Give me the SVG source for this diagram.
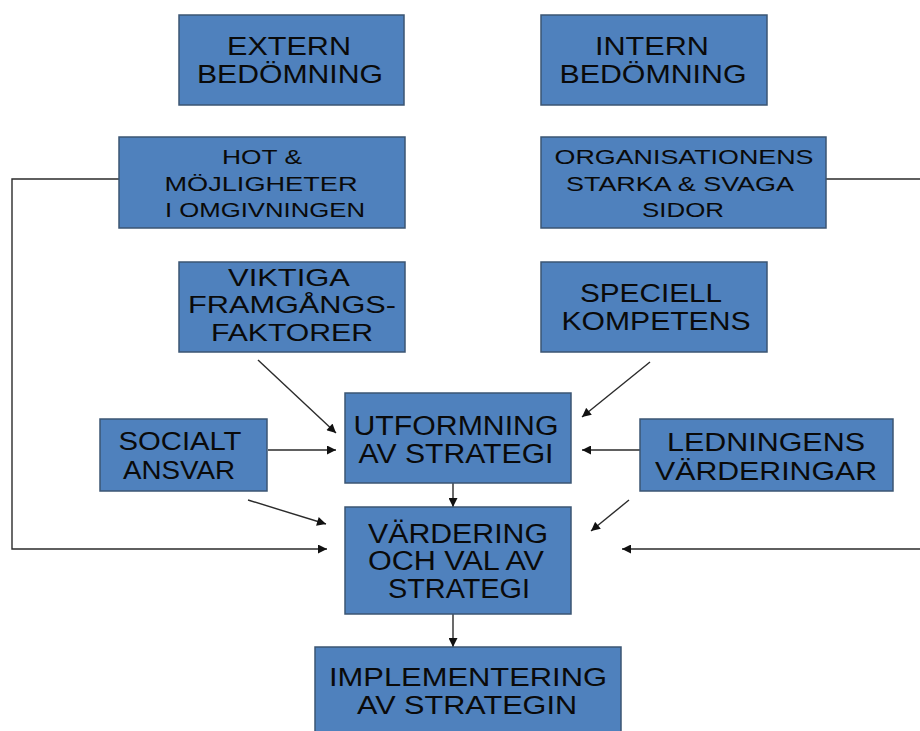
<svg xmlns="http://www.w3.org/2000/svg" width="920" height="731" viewBox="0 0 920 731">
<style>
.box{fill:#4F81BD;stroke:#3B5573;stroke-width:1.5}
.t{font-family:"Liberation Sans",Arial,sans-serif;fill:#0a0a0a;text-anchor:middle}
.conn{fill:none;stroke:#2b2b2b;stroke-width:1.4}
</style>
<defs>
<marker id="ah2" viewBox="0 0 10 10" refX="10" refY="5" markerWidth="10" markerHeight="9" orient="auto" markerUnits="userSpaceOnUse">
<path d="M0,0 L10,5 L0,10 z" fill="#111"/>
</marker>
</defs>
<g id="connectors">
<path class="conn" d="M119,179 H12 V549 H327" marker-end="url(#ah2)"/>
<path class="conn" d="M826,179 H921 V549 H622" marker-end="url(#ah2)"/>
<path class="conn" d="M258,360 L336,433" marker-end="url(#ah2)"/>
<path class="conn" d="M650,362 L582,417" marker-end="url(#ah2)"/>
<path class="conn" d="M268,450 L336,450" marker-end="url(#ah2)"/>
<path class="conn" d="M640,450 L582,450" marker-end="url(#ah2)"/>
<path class="conn" d="M248,500 L326,524" marker-end="url(#ah2)"/>
<path class="conn" d="M629,500 L591,531" marker-end="url(#ah2)"/>
<path class="conn" d="M453,483 L453,507" marker-end="url(#ah2)"/>
<path class="conn" d="M453,614 L453,647" marker-end="url(#ah2)"/>
</g>
<g id="extern">
<rect class="box" x="179" y="15" width="225" height="90"/>
<text class="t" font-size="25" x="289" y="55" textLength="124" lengthAdjust="spacingAndGlyphs">EXTERN</text>
<text class="t" font-size="25" x="290" y="83" textLength="186" lengthAdjust="spacingAndGlyphs">BEDÖMNING</text>
</g>
<g id="intern">
<rect class="box" x="541" y="15" width="226" height="90"/>
<text class="t" font-size="25" x="652" y="55" textLength="114" lengthAdjust="spacingAndGlyphs">INTERN</text>
<text class="t" font-size="25" x="653" y="83" textLength="187" lengthAdjust="spacingAndGlyphs">BEDÖMNING</text>
</g>
<g id="hot">
<rect class="box" x="119" y="137" width="286" height="91"/>
<text class="t" font-size="21" x="262" y="164" textLength="80" lengthAdjust="spacingAndGlyphs">HOT &amp;</text>
<text class="t" font-size="21" x="261" y="191" textLength="193" lengthAdjust="spacingAndGlyphs">MÖJLIGHETER</text>
<text class="t" font-size="21" x="265" y="217" textLength="200" lengthAdjust="spacingAndGlyphs">I OMGIVNINGEN</text>
</g>
<g id="org">
<rect class="box" x="541" y="137" width="285" height="91"/>
<text class="t" font-size="21" x="684" y="164" textLength="259" lengthAdjust="spacingAndGlyphs">ORGANISATIONENS</text>
<text class="t" font-size="21" x="680" y="191" textLength="228" lengthAdjust="spacingAndGlyphs">STARKA &amp; SVAGA</text>
<text class="t" font-size="21" x="683" y="217" textLength="82" lengthAdjust="spacingAndGlyphs">SIDOR</text>
</g>
<g id="viktiga">
<rect class="box" x="179" y="262" width="226" height="90"/>
<text class="t" font-size="24" x="289" y="286" textLength="122" lengthAdjust="spacingAndGlyphs">VIKTIGA</text>
<text class="t" font-size="24" x="292" y="313" textLength="208" lengthAdjust="spacingAndGlyphs">FRAMGÅNGS-</text>
<text class="t" font-size="24" x="292" y="341" textLength="162" lengthAdjust="spacingAndGlyphs">FAKTORER</text>
</g>
<g id="speciell">
<rect class="box" x="541" y="262" width="226" height="90"/>
<text class="t" font-size="25" x="651" y="302" textLength="142" lengthAdjust="spacingAndGlyphs">SPECIELL</text>
<text class="t" font-size="25" x="656" y="330" textLength="189" lengthAdjust="spacingAndGlyphs">KOMPETENS</text>
</g>
<g id="socialt">
<rect class="box" x="100" y="419" width="167" height="72"/>
<text class="t" font-size="26" x="180" y="450" textLength="123" lengthAdjust="spacingAndGlyphs">SOCIALT</text>
<text class="t" font-size="26" x="179" y="479" textLength="112" lengthAdjust="spacingAndGlyphs">ANSVAR</text>
</g>
<g id="utformning">
<rect class="box" x="345" y="393" width="226" height="90"/>
<text class="t" font-size="27" x="456" y="435" textLength="205" lengthAdjust="spacingAndGlyphs">UTFORMNING</text>
<text class="t" font-size="27" x="456" y="463" textLength="195" lengthAdjust="spacingAndGlyphs">AV STRATEGI</text>
</g>
<g id="ledningens">
<rect class="box" x="640" y="419" width="253" height="72"/>
<text class="t" font-size="26" x="766" y="451" textLength="198" lengthAdjust="spacingAndGlyphs">LEDNINGENS</text>
<text class="t" font-size="26" x="766" y="480" textLength="222" lengthAdjust="spacingAndGlyphs">VÄRDERINGAR</text>
</g>
<g id="vardering">
<rect class="box" x="345" y="507" width="226" height="107"/>
<text class="t" font-size="27" x="458" y="543" textLength="180" lengthAdjust="spacingAndGlyphs">VÄRDERING</text>
<text class="t" font-size="27" x="456" y="570" textLength="176" lengthAdjust="spacingAndGlyphs">OCH VAL AV</text>
<text class="t" font-size="27" x="459" y="598" textLength="142" lengthAdjust="spacingAndGlyphs">STRATEGI</text>
</g>
<g id="implementering">
<rect class="box" x="315" y="647" width="306" height="90"/>
<text class="t" font-size="25" x="468" y="685.5" textLength="278" lengthAdjust="spacingAndGlyphs">IMPLEMENTERING</text>
<text class="t" font-size="25" x="467" y="714" textLength="220" lengthAdjust="spacingAndGlyphs">AV STRATEGIN</text>
</g>
</svg>
